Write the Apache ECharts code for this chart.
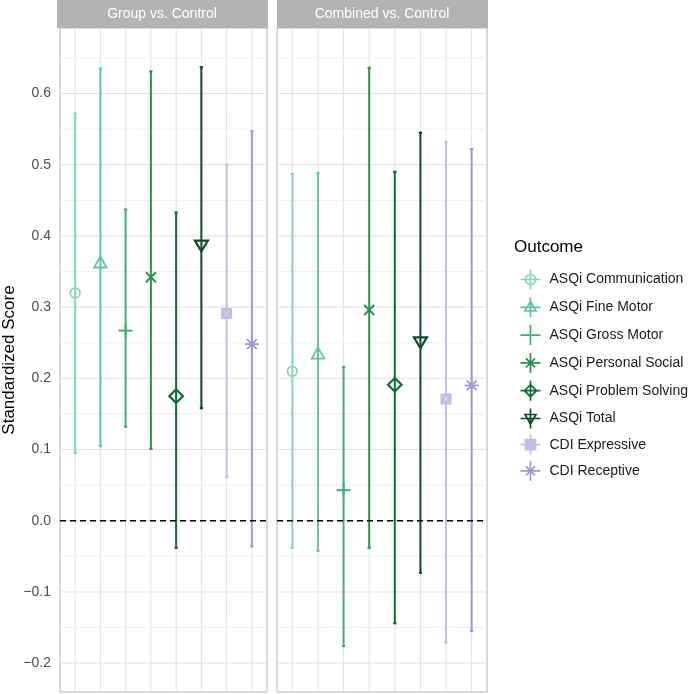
<!DOCTYPE html>
<html>
<head>
<meta charset="utf-8">
<script src="https://cdn.jsdelivr.net/npm/echarts@6/dist/echarts.min.js"></script>
<style>
html,body{margin:0;padding:0;background:#fff;}
#chart{width:689px;height:694px;}
</style>
</head>
<body>
<div id="chart"></div>
<script>
// ---------------- data ----------------
const outcomes = ['ASQi Communication','ASQi Fine Motor','ASQi Gross Motor','ASQi Personal Social','ASQi Problem Solving','ASQi Total','CDI Expressive','CDI Receptive'];
const panels = ['Group vs. Control','Combined vs. Control'];
const groupEst  = [0.320, 0.361, 0.267, 0.342, 0.175, 0.387, 0.291, 0.248];
const groupLow  = [0.095, 0.105, 0.132, 0.101, -0.038, 0.158, 0.061, -0.036];
const groupHigh = [0.572, 0.635, 0.437, 0.631, 0.433, 0.637, 0.500, 0.547];
const combEst   = [0.210, 0.233, 0.043, 0.296, 0.191, 0.251, 0.171, 0.190];
const combLow   = [-0.038, -0.042, -0.176, -0.038, -0.144, -0.073, -0.171, -0.155];
const combHigh  = [0.487, 0.488, 0.216, 0.636, 0.490, 0.545, 0.532, 0.522];
const yTicks = [-0.2, -0.1, 0.0, 0.1, 0.2, 0.3, 0.4, 0.5, 0.6];
const yMinor = [-0.15, -0.05, 0.05, 0.15, 0.25, 0.35, 0.45, 0.55, 0.65];
const refLine = [0];

// ---------------- styling ----------------
const colors = ['#8dd5ba','#63c5a1','#41ae76','#2a9150','#0a6e2f','#0b4d24','#bfbfe4','#9e9ad0'];
const shapes = ['circle','triangle','plus','cross','diamond','triangleDown','squareCross','asterisk'];
const legendPaths = {
  circle: 'M10,0 L10,20 M0,10 L20,10 M15,10 A5,5 0 1 1 5,10 A5,5 0 1 1 15,10 Z',
  triangle: 'M10,0 L10,20 M0,10 L20,10 M10,4 L15.5,13.5 L4.5,13.5 Z',
  plus: 'M10,0 L10,20 M0,10 L20,10',
  cross: 'M10,0 L10,20 M0,10 L20,10 M5.5,5.5 L14.5,14.5 M14.5,5.5 L5.5,14.5',
  diamond: 'M10,0 L10,20 M0,10 L20,10 M10,4 L16,10 L10,16 L4,10 Z',
  triangleDown: 'M10,0 L10,20 M0,10 L20,10 M4.5,6 L15.5,6 L10,15.5 Z',
  squareCross: 'M10,0 L10,20 M0,10 L20,10 M5,5 L15,5 L15,15 L5,15 Z',
  asterisk: 'M10,0 L10,20 M0,10 L20,10 M5.5,5.5 L14.5,14.5 M14.5,5.5 L5.5,14.5'
};
const FONT = '"Liberation Sans", Arial, Helvetica, sans-serif';
const gridLeft = [57, 277], gridW = 210, gridTop = 28, gridH = 664;
const yMin = -0.2405, yMax = 0.692;

function marker(shape, cx, cy, color) {
  const st = {fill: 'none', stroke: color, lineWidth: 1.8};
  switch (shape) {
    case 'circle': return [{type:'circle', shape:{cx, cy, r:4.8}, style:st}];
    case 'triangle': return [{type:'polygon', shape:{points:[[cx,cy-7.3],[cx+6.3,cy+3.8],[cx-6.3,cy+3.8]]}, style:st}];
    case 'plus': return [
      {type:'line', shape:{x1:cx-7,y1:cy,x2:cx+7,y2:cy}, style:{stroke:color,lineWidth:2}},
      {type:'line', shape:{x1:cx,y1:cy-7,x2:cx,y2:cy+7}, style:{stroke:color,lineWidth:2}}];
    case 'cross': return [
      {type:'line', shape:{x1:cx-5,y1:cy-5,x2:cx+5,y2:cy+5}, style:{stroke:color,lineWidth:2}},
      {type:'line', shape:{x1:cx-5,y1:cy+5,x2:cx+5,y2:cy-5}, style:{stroke:color,lineWidth:2}}];
    case 'diamond': return [{type:'polygon', shape:{points:[[cx,cy-6.8],[cx+6.8,cy],[cx,cy+6.8],[cx-6.8,cy]]}, style:{fill:'none',stroke:color,lineWidth:2.2}}];
    case 'triangleDown': return [{type:'polygon', shape:{points:[[cx-6.5,cy-4.6],[cx+6.5,cy-4.6],[cx,cy+6.2]]}, style:{fill:'none',stroke:color,lineWidth:2.2}}];
    case 'squareCross': return [
      {type:'rect', shape:{x:cx-5.5,y:cy-5.5,width:11,height:11}, style:{fill:color}},
      {type:'line', shape:{x1:cx-3,y1:cy-3,x2:cx+3,y2:cy+3}, style:{stroke:'rgba(255,255,255,0.45)',lineWidth:1}},
      {type:'line', shape:{x1:cx-3,y1:cy+3,x2:cx+3,y2:cy-3}, style:{stroke:'rgba(255,255,255,0.45)',lineWidth:1}}];
    case 'asterisk': return [
      {type:'line', shape:{x1:cx-7,y1:cy,x2:cx+7,y2:cy}, style:{stroke:color,lineWidth:1.8}},
      {type:'line', shape:{x1:cx,y1:cy-7,x2:cx,y2:cy+7}, style:{stroke:color,lineWidth:1.8}},
      {type:'line', shape:{x1:cx-5,y1:cy-5,x2:cx+5,y2:cy+5}, style:{stroke:color,lineWidth:1.8}},
      {type:'line', shape:{x1:cx-5,y1:cy+5,x2:cx+5,y2:cy-5}, style:{stroke:color,lineWidth:1.8}}];
  }
  return [];
}

function pointRange(k) {
  return function (params, api) {
    const x = api.value(0), e = api.value(1), lo = api.value(2), hi = api.value(3);
    const pe = api.coord([x, e]), pl = api.coord([x, lo]), ph = api.coord([x, hi]);
    const c = colors[k];
    const children = [
      {type:'line', shape:{x1:pl[0],y1:pl[1],x2:ph[0],y2:ph[1]}, style:{stroke:c,lineWidth:2}},
      {type:'line', shape:{x1:pl[0]-1.6,y1:pl[1],x2:pl[0]+1.6,y2:pl[1]}, style:{stroke:c,lineWidth:2.2}},
      {type:'line', shape:{x1:ph[0]-1.6,y1:ph[1],x2:ph[0]+1.6,y2:ph[1]}, style:{stroke:c,lineWidth:2.2}}
    ].concat(marker(shapes[k], pe[0], pe[1], c));
    return {type:'group', children};
  };
}

function gridRender(params, api) {
  const cs = params.coordSys;
  const kind = api.value(2);
  if (kind === 0) {
    const p = api.coord([api.value(0), 0]);
    return {type:'line', shape:{x1:p[0],y1:cs.y,x2:p[0],y2:cs.y+cs.height}, style:{stroke:'#e2e2e2',lineWidth:1}};
  }
  const p = api.coord([1, api.value(1)]);
  return {type:'line', shape:{x1:cs.x,y1:p[1],x2:cs.x+cs.width,y2:p[1]},
    style:{stroke: kind === 1 ? '#e2e2e2' : '#f0f0f0', lineWidth:1}};
}

function zeroRender(params, api) {
  const cs = params.coordSys;
  const p = api.coord([1, api.value(0)]);
  return {type:'line', shape:{x1:cs.x,y1:p[1],x2:cs.x+cs.width,y2:p[1]},
    style:{stroke:'#000',lineWidth:1.6,lineDash:[6,4]}};
}

const grids = [], xAxes = [], yAxes = [], series = [], graphics = [];
const est = [groupEst, combEst], low = [groupLow, combLow], high = [groupHigh, combHigh];

panels.forEach((pn, p) => {
  grids.push({left: gridLeft[p], top: gridTop, width: gridW, height: gridH, show: true,
    backgroundColor: '#fff', borderColor: '#b3b3b3', borderWidth: 1});
  xAxes.push({type:'value', gridIndex:p, min:0.4, max:8.6,
    axisLine:{show:false}, axisTick:{show:false}, axisLabel:{show:false}, splitLine:{show:false}});
  yAxes.push({type:'value', gridIndex:p, min:yMin, max:yMax,
    name: p === 0 ? 'Standardized Score' : '', nameLocation:'middle', nameGap:42, nameRotate:90,
    nameTextStyle:{fontFamily:FONT, fontSize:17, color:'#000'},
    axisLine:{show:false}, axisTick:{show:false, customValues: yTicks}, splitLine:{show:false},
    axisLabel:{show: p === 0, customValues: yTicks, margin:9, fontFamily:FONT, fontSize:14, color:'#4d4d4d',
      formatter: v => (v < 0 ? '\u2212' + Math.abs(v).toFixed(1) : v.toFixed(1))}});
  // gridlines
  const gdata = [];
  outcomes.forEach((o, i) => gdata.push([i + 1, 0, 0]));
  yTicks.forEach(v => gdata.push([1, v, 1]));
  yMinor.forEach(v => gdata.push([1, v, 2]));
  series.push({type:'custom', name:'grid'+p, xAxisIndex:p, yAxisIndex:p, z:1, silent:true,
    renderItem: gridRender, data: gdata, encode:{x:0, y:1}});
  outcomes.forEach((o, k) => {
    series.push({type:'custom', name:o, xAxisIndex:p, yAxisIndex:p, z:3, silent:true,
      renderItem: pointRange(k), encode:{x:0, y:[1,2,3]},
      itemStyle:{color: colors[k]},
      data: [[k + 1, est[p][k], low[p][k], high[p][k]]]});
  });
  series.push({type:'custom', name:'zero'+p, xAxisIndex:p, yAxisIndex:p, z:4, silent:true,
    renderItem: zeroRender, encode:{y:0}, data: refLine.map(v => [v])});
  graphics.push({type:'rect', left: gridLeft[p], top: 0, shape:{width:gridW + 1, height:gridTop}, style:{fill:'#b3b3b3'}});
  graphics.push({type:'text', x: gridLeft[p] + gridW / 2, y: 14,
    style:{text: pn, fill:'#fff', font: '14px ' + FONT, textAlign:'center', textVerticalAlign:'middle'}});
});

graphics.push({type:'text', x: 514, y: 247,
  style:{text:'Outcome', fill:'#000', font:'17px ' + FONT, textAlign:'left', textVerticalAlign:'middle'}});

const chart = echarts.init(document.getElementById('chart'), null, {renderer:'canvas'});
chart.setOption({
  animation: false,
  grid: grids, xAxis: xAxes, yAxis: yAxes, series: series, graphic: graphics,
  legend: {
    orient:'vertical', left: 518, top: 267, padding: 0, itemGap: 2.8,
    itemWidth: 20, itemHeight: 20, selectedMode: false,
    textStyle:{fontFamily:FONT, fontSize:14, color:'#1a1a1a', padding:[0,0,0,4]},
    data: outcomes.map((o, k) => ({
      name: o,
      icon: 'path://' + legendPaths[shapes[k]],
      itemStyle: {color: shapes[k] === 'squareCross' ? colors[k] : 'none', borderColor: colors[k], borderWidth: 1.7}
    }))
  }
});
</script>
</body>
</html>
